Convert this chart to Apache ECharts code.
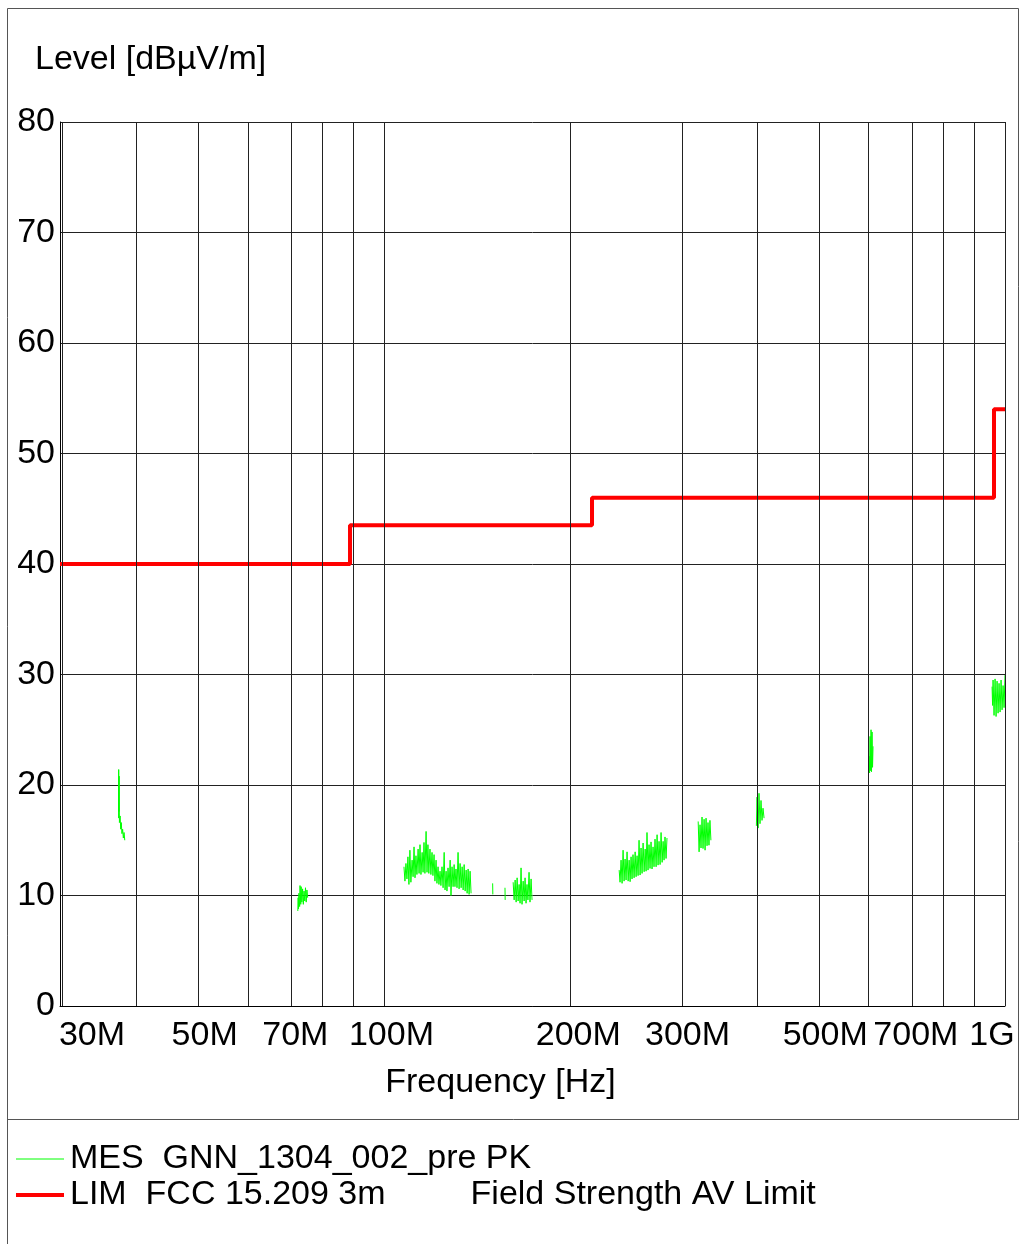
<!DOCTYPE html>
<html>
<head>
<meta charset="utf-8">
<script src="https://cdn.jsdelivr.net/npm/echarts@6/dist/echarts.min.js"></script>
<style>html,body{margin:0;padding:0;background:#fff}#c{width:1019px;height:1244px}</style>
</head>
<body>
<div id="c"></div>
<script>
// ---- data (frequency in MHz, level in dBµV/m) ----
const gridFreqs = [30,40,50,60,70,80,90,100,200,300,400,500,600,700,800,900,1000];
const labelFreqs = [30,50,70,100,200,300,500,700,1000];
const labelTexts = ['30M','50M','70M','100M','200M','300M','500M','700M','1G'];
const yTicks = [0,10,20,30,40,50,60,70,80];

const limitFreq = [30,88,88,216,216,960,960,1000];
const limitLevel = [40,40,43.5,43.5,46,46,54,54];

const mes37 = [[37.28,17.0],[37.30,21.4],[37.33,17.6],[37.36,20.8],[37.40,16.6],[37.50,17.2],[37.58,16.0],[37.66,16.6],[37.75,15.6],[37.85,16.0],[37.95,15.2],[38.05,15.7],[38.15,15.0]];
const mes73 = [[72.5,8.6],[72.6,9.8],[72.7,8.8],[72.8,10.2],[73.0,9.0],[73.1,10.9],[73.3,9.2],[73.4,10.8],[73.6,9.4],[73.8,10.6],[74.0,9.2],[74.2,10.4],[74.4,9.5],[74.6,10.7],[74.8,9.4],[75.0,10.5],[75.2,9.8]];
const mes110 = [[107.5,12.6],[107.9,11.3],[108.3,12.9],[108.7,11.5],[109.1,13.5],[109.5,11.0],[109.9,14.1],[110.3,11.2],[110.8,13.2],[111.2,11.7],[111.6,14.4],[112.0,11.6],[112.4,13.6],[112.8,11.9],[113.3,14.2],[113.7,12.0],[114.1,14.6],[114.5,11.9],[115.0,13.9],[115.4,12.1],[115.8,14.8],[116.2,12.0],[116.7,15.8],[117.1,12.1],[117.5,14.6],[117.9,12.0],[118.4,14.2],[118.8,11.9],[119.3,13.9],[119.7,11.8],[120.2,13.7],[120.6,11.3],[121.1,13.2],[121.5,11.1],[122.0,12.6],[122.4,11.0],[122.9,12.2],[123.3,10.9],[123.8,12.6],[124.3,10.7],[124.8,13.9],[125.2,10.5],[125.7,12.2],[126.1,10.4],[126.6,12.5],[127.1,10.8],[127.6,13.2],[128.0,10.0],[128.5,12.6],[129.0,10.8],[129.5,12.8],[129.9,10.8],[130.4,12.4],[130.9,10.7],[131.4,13.9],[131.9,10.6],[132.4,12.9],[132.9,10.7],[133.4,12.6],[133.9,10.5],[134.4,12.8],[134.9,10.4],[135.4,12.3],[135.9,10.2],[136.4,12.4],[136.9,10.1],[137.4,12.2],[137.9,10.2]];
const mes149 = [[149.4,11.1],[149.5,10.1]];
const mes156 = [[156.4,10.7],[156.5,9.6]];
const mes167 = [[161.2,11.2],[161.8,9.6],[162.4,11.4],[163.0,9.4],[163.6,11.6],[164.2,9.5],[164.8,11.0],[165.4,9.3],[166.0,12.5],[166.6,9.2],[167.3,11.3],[167.9,9.5],[168.5,11.6],[169.1,9.3],[169.7,11.0],[170.3,9.6],[171.0,12.1],[171.6,9.4],[172.3,11.5],[172.9,9.6]];
const mes260 = [[238.9,12.3],[239.7,11.2],[240.6,13.2],[241.5,11.1],[242.4,14.1],[243.3,11.3],[244.2,13.3],[245.1,11.4],[246.0,13.95],[247.0,11.3],[247.9,13.2],[248.8,11.25],[249.7,13.5],[250.6,11.5],[251.5,13.7],[252.5,11.6],[253.5,13.95],[254.4,11.7],[255.3,13.6],[256.3,11.8],[257.2,15.0],[258.2,11.85],[259.1,14.3],[260.1,12.0],[261.1,14.75],[262.1,12.15],[263.1,14.2],[264.0,12.2],[264.9,15.7],[265.9,12.3],[266.9,14.6],[267.9,12.45],[268.9,14.85],[269.9,12.4],[270.9,14.4],[271.9,12.6],[272.9,15.1],[274.0,12.6],[275.0,15.5],[276.0,12.75],[277.0,14.9],[278.1,12.8],[279.1,15.7],[280.2,13.0],[281.2,14.9],[282.2,13.2],[283.2,15.3],[284.3,13.35],[285.3,15.2]];
const mes328 = [[320.3,16.7],[321.4,13.95],[322.5,16.4],[323.7,14.3],[324.9,17.1],[326.1,14.25],[327.4,16.9],[328.6,14.1],[329.8,17.0],[331.0,14.5],[332.2,16.6],[333.4,14.55],[334.6,16.8],[335.8,15.0]];
const mes403 = [[397.5,16.3],[398.5,18.9],[400.0,16.1],[401.4,19.25],[402.9,16.5],[404.4,18.6],[405.9,16.8],[407.4,17.9],[409.0,17.0]];
const mes608 = [[603.5,21.1],[603.9,22.6],[605.0,21.1],[606.1,24.4],[607.2,21.3],[608.3,25.0],[609.4,21.2],[610.6,24.8],[611.7,21.6],[612.8,23.5]];
const mes980 = [[953.2,28.9],[955.0,27.2],[956.7,29.5],[960.2,26.3],[963.8,29.6],[967.4,26.2],[971.0,29.4],[974.6,26.5],[978.2,29.2],[981.9,26.6],[985.5,29.5],[989.2,26.8],[992.8,29.0],[996.5,27.0],[1000,29.95]];

const mesSegments = [mes37, mes73, mes110, mes149, mes156, mes167, mes260, mes328, mes403, mes608, mes980];

const mesName = 'MES  GNN_1304_002_pre PK';
const limName = 'LIM  FCC 15.209 3m         Field Strength AV Limit';

// ---- build ----
const lg = Math.log10;
const mesData = [];
mesSegments.forEach((seg, i) => {
  if (i > 0) mesData.push([lg(seg[0][0]) - 0.0001, '-']);
  seg.forEach(p => mesData.push([lg(p[0]), p[1]]));
});
const limData = limitFreq.map((f, i) => [lg(f), limitLevel[i]]);

const FONT = "'Liberation Sans', Arial, sans-serif";
const FS = 34;
const labelVals = labelFreqs.map(lg);

const chart = echarts.init(document.getElementById('c'), null, {renderer: 'canvas'});
chart.setOption({
  backgroundColor: '#fff',
  animation: false,
  textStyle: {fontFamily: FONT},
  title: {
    text: 'Level [dBµV/m]', left: 30, top: 38,
    textStyle: {fontFamily: FONT, fontSize: FS, fontWeight: 'normal', color: '#000'}
  },
  grid: {left: 60, right: 14, top: 122, bottom: 238, containLabel: false},
  xAxis: {
    type: 'value', min: lg(30), max: lg(1000),
    name: 'Frequency [Hz]', nameLocation: 'middle', nameGap: 60,
    nameTextStyle: {fontFamily: FONT, fontSize: FS, color: '#000', padding: [0, 64, 0, 0]},
    axisLine: {show: true, lineStyle: {color: '#000', width: 1}},
    axisTick: {show: false},
    splitLine: {show: false},
    axisLabel: {
      customValues: labelVals,
      margin: 13,
      color: '#000', fontFamily: FONT, fontSize: FS,
      formatter: function (v) {
        let best = 0, d = 1e9;
        labelVals.forEach((lv, i) => { const dd = Math.abs(lv - v); if (dd < d) { d = dd; best = i; } });
        const t = labelTexts[best];
        if (best === 0) return '{a|' + t + '}';
        if (best === labelTexts.length - 1) return '{c|' + t + '}';
        return '{b|' + t + '}';
      },
      rich: {
        a: {fontFamily: FONT, fontSize: FS, color: '#000', padding: [0, 0, 0, 64]},
        b: {fontFamily: FONT, fontSize: FS, color: '#000', padding: [0, 0, 0, 14]},
        c: {fontFamily: FONT, fontSize: FS, color: '#000', padding: [0, 26, 0, 0]}
      }
    }
  },
  yAxis: {
    type: 'value', min: 0, max: 80, interval: 10,
    axisLine: {show: true, lineStyle: {color: '#000', width: 1}},
    axisTick: {show: false},
    axisLabel: {color: '#000', fontFamily: FONT, fontSize: FS, margin: 5},
    splitLine: {show: true, lineStyle: {color: '#222', width: 1}}
  },
  legend: {
    orient: 'vertical', left: 14, top: 1142, itemGap: 2, padding: 0,
    itemWidth: 48, itemHeight: 14,
    itemStyle: {opacity: 0},
    lineStyle: {width: 'inherit'},
    textStyle: {fontFamily: FONT, fontSize: FS, color: '#000', padding: [0, 0, 0, 1]},
    data: [
      {name: mesName, lineStyle: {width: 1, color: '#00ff00'}},
      {name: limName, lineStyle: {width: 4, color: '#ff0000'}}
    ]
  },
  graphic: [
    {type: 'polyline', silent: true, shape: {points: [[7.5, 1244], [7.5, 8.5], [1018.5, 8.5], [1018.5, 1119.5]]}, style: {stroke: '#555', lineWidth: 1, fill: null}},
    {type: 'line', silent: true, shape: {x1: 7.5, y1: 1119.5, x2: 1019, y2: 1119.5}, style: {stroke: '#555', lineWidth: 1}}
  ],
  series: [
    {
      name: 'grid', type: 'line', data: [], z: 1, silent: true,
      markLine: {
        silent: true, symbol: ['none', 'none'], animation: false,
        label: {show: false},
        lineStyle: {color: '#222', width: 1, type: 'solid'},
        data: gridFreqs.map(f => ({xAxis: lg(f)}))
      }
    },
    {
      name: mesName, type: 'line', data: mesData, z: 3,
      showSymbol: false, symbol: 'none', connectNulls: false,
      lineStyle: {color: '#00ff00', width: 1}, itemStyle: {color: '#00ff00'}
    },
    {
      name: limName, type: 'line', data: limData, z: 4,
      showSymbol: false, symbol: 'none',
      lineStyle: {color: '#ff0000', width: 4}, itemStyle: {color: '#ff0000'}
    }
  ]
});
</script>
</body>
</html>
